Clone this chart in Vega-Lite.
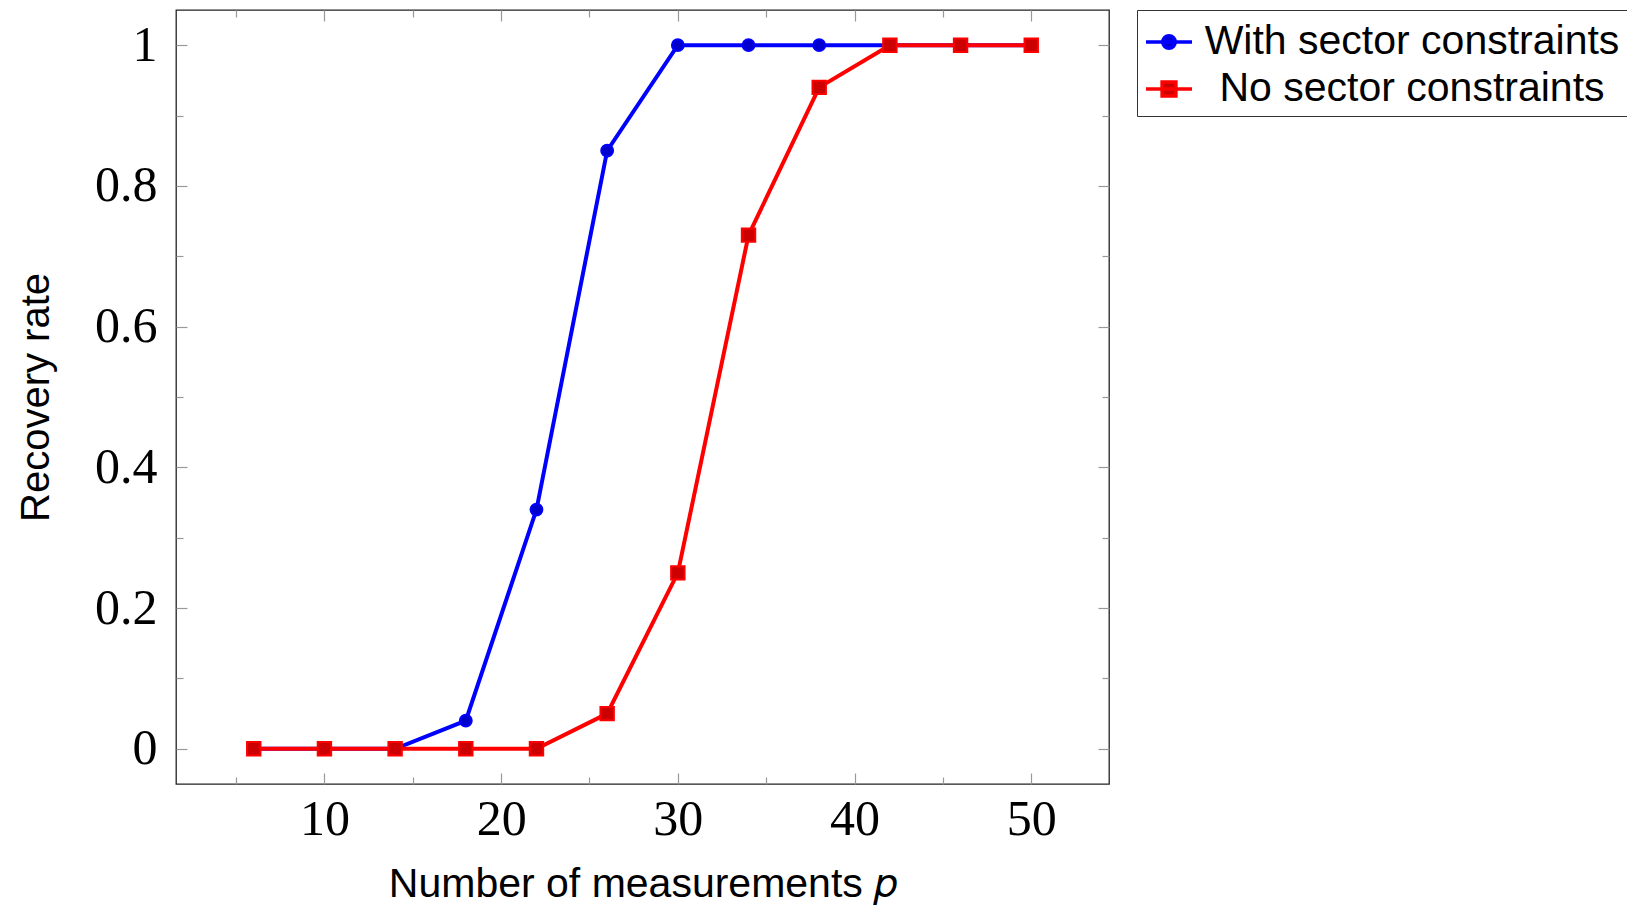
{
  "$schema": "https://vega.github.io/schema/vega-lite/v6.json",
  "width": 933,
  "height": 774,
  "autosize": "none",
  "padding": {"left": 176, "top": 10, "right": 518, "bottom": 121},
  "background": "white",
  "config": {
    "view": {"stroke": "#222222", "strokeWidth": 1.3},
    "axis": {"domain": false, "grid": false, "tickColor": "#999999", "tickWidth": 1.2}
  },
  "data": {
    "values": [
      {"p": 6, "rate": 0, "series": "With sector constraints"},
      {"p": 10, "rate": 0, "series": "With sector constraints"},
      {"p": 14, "rate": 0, "series": "With sector constraints"},
      {"p": 18, "rate": 0.04, "series": "With sector constraints"},
      {"p": 22, "rate": 0.34, "series": "With sector constraints"},
      {"p": 26, "rate": 0.85, "series": "With sector constraints"},
      {"p": 30, "rate": 1, "series": "With sector constraints"},
      {"p": 34, "rate": 1, "series": "With sector constraints"},
      {"p": 38, "rate": 1, "series": "With sector constraints"},
      {"p": 42, "rate": 1, "series": "With sector constraints"},
      {"p": 46, "rate": 1, "series": "With sector constraints"},
      {"p": 50, "rate": 1, "series": "With sector constraints"},
      {"p": 6, "rate": 0, "series": "No sector constraints"},
      {"p": 10, "rate": 0, "series": "No sector constraints"},
      {"p": 14, "rate": 0, "series": "No sector constraints"},
      {"p": 18, "rate": 0, "series": "No sector constraints"},
      {"p": 22, "rate": 0, "series": "No sector constraints"},
      {"p": 26, "rate": 0.05, "series": "No sector constraints"},
      {"p": 30, "rate": 0.25, "series": "No sector constraints"},
      {"p": 34, "rate": 0.73, "series": "No sector constraints"},
      {"p": 38, "rate": 0.94, "series": "No sector constraints"},
      {"p": 42, "rate": 1, "series": "No sector constraints"},
      {"p": 46, "rate": 1, "series": "No sector constraints"},
      {"p": 50, "rate": 1, "series": "No sector constraints"}
    ]
  },
  "resolve": {"axis": {"x": "independent", "y": "independent"}},
  "layer": [
    {
      "transform": [{"filter": "datum.series === 'With sector constraints'"}],
      "mark": {"type": "line", "strokeWidth": 4},
      "encoding": {
        "x": {
          "field": "p", "type": "quantitative",
          "scale": {"domain": [1.6, 54.4], "nice": false, "zero": false},
          "axis": {
            "orient": "bottom",
            "values": [5, 10, 15, 20, 25, 30, 35, 40, 45, 50],
            "labelExpr": "datum.value % 10 === 0 ? datum.label : ''",
            "tickSize": {"condition": {"test": "datum.value % 10 === 0", "value": -11}, "value": -7},
            "labelPadding": 21,
            "labelFont": "Liberation Serif",
            "labelFontSize": 50,
            "labelColor": "#000000",
            "title": "Number of measurements 𝑝",
            "titleFont": "Liberation Sans",
            "titleFontSize": 41,
            "titleFontWeight": "normal",
            "titleColor": "#000000",
            "titlePadding": 20
          }
        },
        "y": {
          "field": "rate", "type": "quantitative",
          "scale": {"domain": [-0.05, 1.05], "nice": false, "zero": false},
          "axis": {
            "orient": "left",
            "values": [0, 0.1, 0.2, 0.3, 0.4, 0.5, 0.6, 0.7, 0.8, 0.9, 1],
            "labelExpr": "round(datum.value * 10) % 2 === 0 ? format(datum.value, '~g') : ''",
            "tickSize": {"condition": {"test": "round(datum.value * 10) % 2 === 0", "value": -11}, "value": -7},
            "labelPadding": 30,
            "labelFont": "Liberation Serif",
            "labelFontSize": 50,
            "labelColor": "#000000",
            "title": "Recovery rate",
            "titleFont": "Liberation Sans",
            "titleFontSize": 40,
            "titleFontWeight": "normal",
            "titleColor": "#000000",
            "titlePadding": 38
          }
        },
        "color": {
          "field": "series", "type": "nominal",
          "scale": {"domain": ["With sector constraints", "No sector constraints"], "range": ["#0000ff", "#ff0000"]},
          "legend": {
            "title": null,
            "orient": "none",
            "legendX": 961,
            "legendY": 0,
            "padding": 7,
            "strokeColor": "#333333",
            "fillColor": "white",
            "symbolSize": 2116,
            "symbolStrokeWidth": 3,
            "labelFont": "Liberation Sans",
            "labelFontSize": 41,
            "labelColor": "#000000",
            "labelLimit": 0,
            "labelAlign": "center",
            "labelOffset": 218,
            "rowPadding": 2,
            "encode": {
              "symbols": {
                "update": {
                  "shape": {"signal": "datum.value === 'With sector constraints' ? 'M-1,0L1,0M0.27,0A0.27,0.27,0,1,1,-0.27,0A0.27,0.27,0,1,1,0.27,0Z' : 'M-1,0L1,0M-0.3,-0.3L0.3,-0.3L0.3,0.3L-0.3,0.3Z'"},
                  "fill": {"signal": "datum.value === 'With sector constraints' ? '#0000cc' : '#cc0000'"},
                  "stroke": {"signal": "datum.value === 'With sector constraints' ? '#0000ff' : '#ff0000'"},
                  "strokeWidth": {"value": 3.5},
                  "opacity": {"value": 1},
                  "fillOpacity": {"value": 1}
                }
              }
            }
          }
        }
      }
    },
    {
      "transform": [{"filter": "datum.series === 'With sector constraints'"}],
      "mark": {"type": "point", "shape": "circle", "filled": true, "size": 140, "fill": "#0000cc", "stroke": "#0000ff", "strokeWidth": 2, "opacity": 1, "fillOpacity": 1},
      "encoding": {
        "x": {"field": "p", "type": "quantitative", "axis": null},
        "y": {"field": "rate", "type": "quantitative", "axis": null}
      }
    },
    {
      "transform": [{"filter": "datum.series === 'No sector constraints'"}],
      "mark": {"type": "line", "strokeWidth": 4},
      "encoding": {
        "x": {
          "field": "p", "type": "quantitative",
          "axis": {
            "orient": "top",
            "values": [5, 10, 15, 20, 25, 30, 35, 40, 45, 50],
            "labels": false,
            "tickSize": {"condition": {"test": "datum.value % 10 === 0", "value": -11}, "value": -7},
            "title": null
          }
        },
        "y": {
          "field": "rate", "type": "quantitative",
          "axis": {
            "orient": "right",
            "values": [0, 0.1, 0.2, 0.3, 0.4, 0.5, 0.6, 0.7, 0.8, 0.9, 1],
            "labels": false,
            "tickSize": {"condition": {"test": "round(datum.value * 10) % 2 === 0", "value": -11}, "value": -7},
            "title": null
          }
        },
        "color": {"field": "series", "type": "nominal"}
      }
    },
    {
      "transform": [{"filter": "datum.series === 'No sector constraints'"}],
      "mark": {"type": "point", "shape": "square", "filled": true, "size": 180, "fill": "#cc0000", "stroke": "#ff0000", "strokeWidth": 2, "opacity": 1, "fillOpacity": 1},
      "encoding": {
        "x": {"field": "p", "type": "quantitative", "axis": null},
        "y": {"field": "rate", "type": "quantitative", "axis": null}
      }
    }
  ]
}
